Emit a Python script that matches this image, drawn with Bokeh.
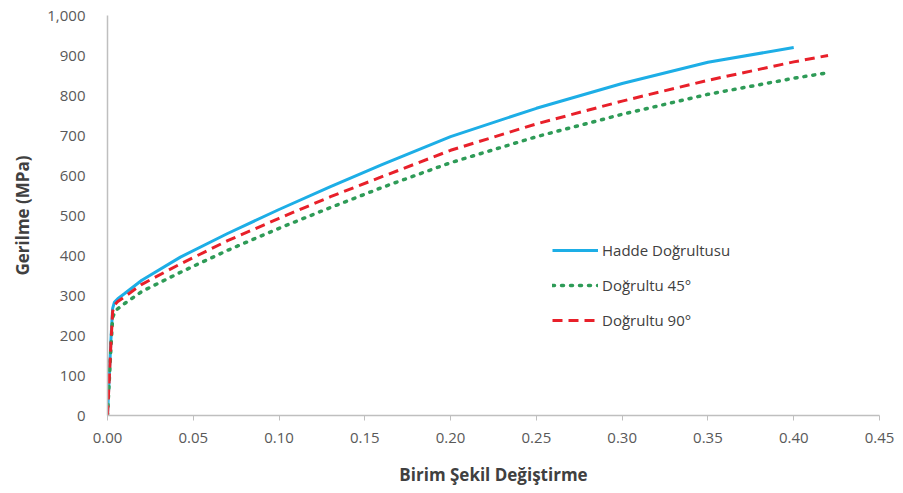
from bokeh.plotting import figure
from bokeh.embed import file_html
from bokeh.resources import INLINE
from bokeh.models import Legend, LegendItem, NumeralTickFormatter, FixedTicker, Range1d

# Data
strain_hadde = [0.0, 0.001, 0.002, 0.003, 0.004, 0.006, 0.010, 0.020, 0.0425, 0.07, 0.10, 0.13, 0.16, 0.20, 0.25, 0.30, 0.35, 0.40]
stress_hadde = [0, 95, 190, 268, 283, 292, 305, 338, 396, 455, 515, 572, 627, 697, 768, 830, 883, 920]

strain_45 = [0.0, 0.001, 0.002, 0.003, 0.0045, 0.007, 0.010, 0.020, 0.0425, 0.07, 0.10, 0.13, 0.16, 0.20, 0.25, 0.30, 0.35, 0.40, 0.42]
stress_45 = [0, 85, 170, 245, 262, 270, 280, 310, 358, 413, 468, 520, 570, 632, 697, 753, 803, 843, 857]

strain_90 = [0.0, 0.001, 0.002, 0.003, 0.004, 0.006, 0.010, 0.020, 0.0425, 0.07, 0.10, 0.13, 0.16, 0.20, 0.25, 0.30, 0.35, 0.40, 0.42]
stress_90 = [0, 90, 180, 260, 276, 285, 297, 328, 379, 437, 493, 547, 597, 663, 729, 786, 838, 884, 900]

x_ticks = [0.0, 0.05, 0.10, 0.15, 0.20, 0.25, 0.30, 0.35, 0.40, 0.45]
y_ticks = [0, 100, 200, 300, 400, 500, 600, 700, 800, 900, 1000]

series_names = ["Hadde Doğrultusu", "Doğrultu 45°", "Doğrultu 90°"]

FONT = "Open Sans"

p = figure(width=895, height=490, output_backend="svg", toolbar_location=None,
           x_range=Range1d(0, 0.45), y_range=Range1d(0, 1000),
           min_border_left=107, min_border_right=16, min_border_top=15, min_border_bottom=75)
p.outline_line_color = None
p.xgrid.visible = False
p.ygrid.visible = False

r1 = p.line(strain_hadde, stress_hadde, line_color="#1DAEE6", line_width=3)
r2 = p.line(strain_45, stress_45, line_color="#2E9B57", line_width=3.5, line_dash="2 7", line_cap="round")
r3 = p.line(strain_90, stress_90, line_color="#E8202A", line_width=3, line_dash="10 6")

for ax in (p.xaxis[0], p.yaxis[0]):
    ax.axis_line_color = "#BFBFBF"
    ax.axis_line_width = 1.5
    ax.major_label_text_font = FONT
    ax.major_label_text_font_size = "15px"
    ax.major_label_text_color = "#595959"
    ax.minor_tick_line_color = None
    ax.axis_label_text_font = FONT
    ax.axis_label_text_font_size = "17px"
    ax.axis_label_text_font_style = "bold"
    ax.axis_label_text_color = "#404040"

p.xaxis.ticker = FixedTicker(ticks=x_ticks)
p.xaxis.formatter = NumeralTickFormatter(format="0.00")
p.xaxis.major_tick_line_color = "#BFBFBF"
p.xaxis.major_tick_in = 0
p.xaxis.major_tick_out = 5
p.xaxis.major_label_standoff = 12
p.xaxis.axis_label = "Birim Şekil Değiştirme"
p.xaxis.axis_label_standoff = 17

p.yaxis.ticker = FixedTicker(ticks=y_ticks)
p.yaxis.formatter = NumeralTickFormatter(format="0,0")
p.yaxis.major_tick_line_color = None
p.yaxis.major_label_standoff = 16
p.yaxis.axis_label = "Gerilme (MPa)"
p.yaxis.axis_label_standoff = 10

legend = Legend(items=[LegendItem(label=series_names[0], renderers=[r1]),
                       LegendItem(label=series_names[1], renderers=[r2]),
                       LegendItem(label=series_names[2], renderers=[r3])],
                location=(445, 85))
legend.border_line_color = None
legend.background_fill_alpha = 0
legend.label_text_font = FONT
legend.label_text_font_size = "15px"
legend.label_text_color = "#404040"
legend.glyph_width = 46
legend.glyph_height = 20
legend.spacing = 15
legend.label_standoff = 4
legend.padding = 4
p.add_layout(legend, "center")

open("out.html", "w").write(file_html(p, INLINE))
